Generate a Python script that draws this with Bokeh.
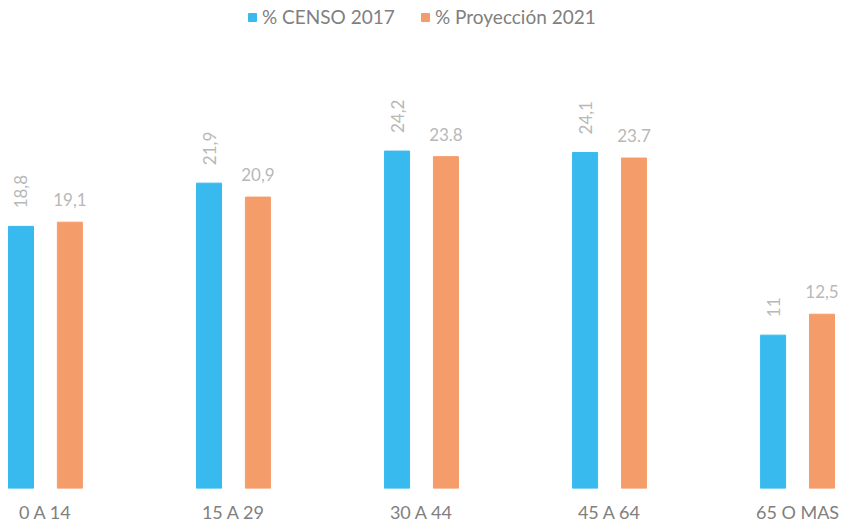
from bokeh.plotting import figure
from bokeh.models import ColumnDataSource, FixedTicker, Legend, LegendItem, Range1d
from bokeh.core.properties import value
from bokeh.embed import file_html
from bokeh.resources import INLINE

categories = ["0 A 14", "15 A 29", "30 A 44", "45 A 64", "65 O MAS"]
censo_2017 = [18.8, 21.9, 24.2, 24.1, 11.0]
proy_2021 = [19.1, 20.9, 23.8, 23.7, 12.5]
censo_labels = ["18,8", "21,9", "24,2", "24,1", "11"]
proy_labels = ["19,1", "20,9", "23.8", "23.7", "12,5"]
series_names = ["% CENSO 2017", "% Proyección 2021"]

BLUE = "#38BAEE"
ORANGE = "#F59C6B"
LABEL_GRAY = "#B8B8B8"
TEXT_GRAY = "#808080"
FONT = "Lato"

xs = list(range(len(categories)))
off = 0.13
bw = 0.133

src_c = ColumnDataSource(dict(x=[x - off for x in xs], top=censo_2017, lab=censo_labels))
src_p = ColumnDataSource(dict(x=[x + off for x in xs], top=proy_2021, lab=proy_labels))

p = figure(width=848, height=525, output_backend="svg", toolbar_location=None,
           x_range=Range1d(-0.239, 4.271), y_range=Range1d(0, 35.0),
           min_border_left=0, min_border_right=0, min_border_top=0, min_border_bottom=33)
p.outline_line_color = None
p.grid.visible = False
p.yaxis.visible = False
p.background_fill_color = "white"

rc = p.vbar(x="x", top="top", width=bw, bottom=0, color=BLUE, source=src_c)
rp = p.vbar(x="x", top="top", width=bw, bottom=0, color=ORANGE, source=src_p)

p.text(x="x", y="top", text="lab", source=src_c, angle=1.5708,
       text_align="left", text_baseline="middle", y_offset=-18,
       text_font=value(FONT), text_font_size="17px", text_color=LABEL_GRAY)
p.text(x="x", y="top", text="lab", source=src_p,
       text_align="center", text_baseline="bottom", y_offset=-16,
       text_font=value(FONT), text_font_size="17px", text_color=LABEL_GRAY)

ax = p.xaxis[0]
ax.ticker = FixedTicker(ticks=xs)
ax.major_label_overrides = {i: c for i, c in enumerate(categories)}
ax.axis_line_color = None
ax.major_tick_line_color = None
ax.minor_tick_line_color = None
ax.major_tick_out = 0
ax.major_tick_in = 0
ax.major_label_standoff = 12
ax.major_label_text_font = FONT
ax.major_label_text_font_size = "18px"
ax.major_label_text_color = TEXT_GRAY

common = dict(orientation="horizontal", border_line_color=None, background_fill_alpha=0,
              label_text_font=FONT, label_text_font_size="19px",
              label_text_color=TEXT_GRAY, glyph_width=10, glyph_height=10,
              label_standoff=5, margin=0, padding=0)
leg1 = Legend(items=[LegendItem(label=series_names[0], renderers=[rc])],
              location=(247, 460), **common)
leg2 = Legend(items=[LegendItem(label=series_names[1], renderers=[rp])],
              location=(420, 460), **common)
p.add_layout(leg1)
p.add_layout(leg2)

open("out.html", "w").write(file_html(p, INLINE))
